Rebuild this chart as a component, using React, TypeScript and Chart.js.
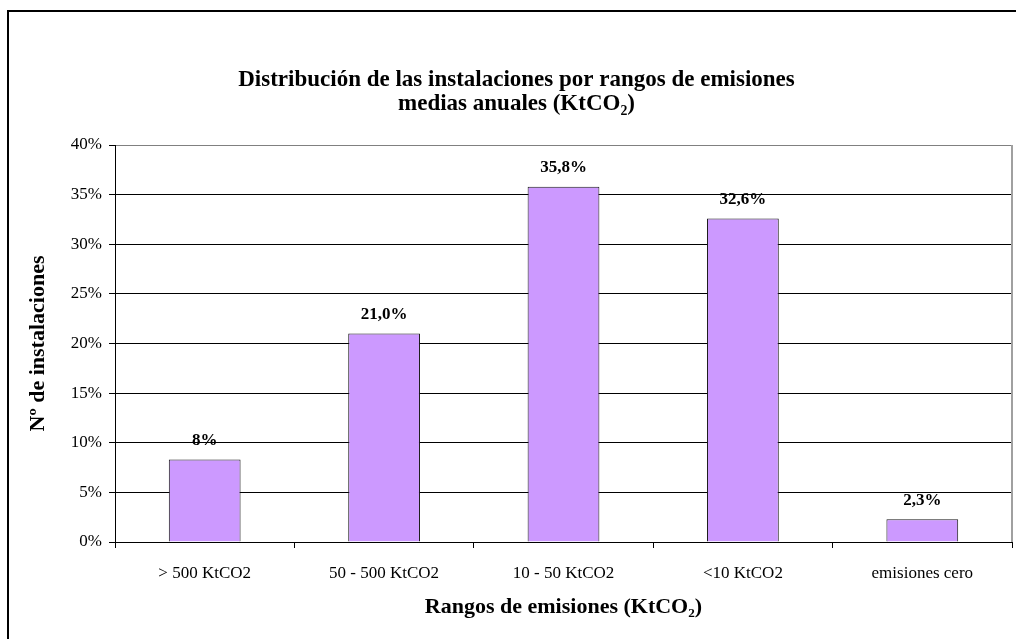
import React, { useEffect, useRef } from "react";
import { Chart, registerables } from "chart.js";

Chart.register(...registerables);

const categories = ["> 500 KtCO2", "50 - 500 KtCO2", "10 - 50 KtCO2", "<10 KtCO2", "emisiones cero"];
const values = [8.3, 21.0, 35.8, 32.6, 2.3];
const valueLabels = ["8%", "21,0%", "35,8%", "32,6%", "2,3%"];
const yTickValues = [0, 5, 10, 15, 20, 25, 30, 35, 40];
const titleLines = ["Distribución de las instalaciones por rangos de emisiones", "medias anuales (KtCO₂)"];
const xAxisTitle = "Rangos de emisiones (KtCO₂)";
const yAxisTitle = "Nº de instalaciones";

const SERIF = "'Liberation Serif', 'Times New Roman', serif";

const framePlugin = {
  id: "frame",
  beforeDraw(chart: any) {
    const ctx = chart.ctx;
    ctx.save();
    ctx.fillStyle = "#ffffff";
    ctx.fillRect(0, 0, chart.width, chart.height);
    ctx.fillStyle = "#000000";
    ctx.fillRect(7, 10, 2, chart.height - 10);
    ctx.fillRect(7, 10, chart.width - 7, 2);
    ctx.restore();
  },
  afterDraw(chart: any) {
    const { ctx, chartArea } = chart;
    ctx.save();
    ctx.strokeStyle = "#a0a0a0";
    ctx.lineWidth = 2;
    ctx.beginPath();
    ctx.moveTo(chartArea.right, chartArea.top);
    ctx.lineTo(chartArea.right, chartArea.bottom);
    ctx.stroke();
    ctx.restore();
  },
};

const barLabelPlugin = {
  id: "barLabels",
  afterDatasetsDraw(chart: any) {
    const ctx = chart.ctx;
    const meta = chart.getDatasetMeta(0);
    ctx.save();
    ctx.font = `bold 17px ${SERIF}`;
    ctx.fillStyle = "#000000";
    ctx.textAlign = "center";
    ctx.textBaseline = "middle";
    meta.data.forEach((bar: any, i: number) => {
      ctx.fillText(valueLabels[i], bar.x, bar.y - 19);
    });
    ctx.restore();
  },
};

export default function App() {
  const ref = useRef<HTMLCanvasElement | null>(null);

  useEffect(() => {
    if (!ref.current) return;
    const chart = new Chart(ref.current, {
      type: "bar",
      data: {
        labels: categories,
        datasets: [
          {
            data: values,
            backgroundColor: "#CC99FF",
            borderColor: "#1a1a1a",
            borderWidth: 1,
            barPercentage: 0.4,
            categoryPercentage: 1,
          },
        ],
      },
      options: {
        responsive: false,
        animation: false,
        devicePixelRatio: 1,
        layout: { padding: { left: 21, right: 4, top: 20, bottom: 14 } },
        plugins: {
          legend: { display: false },
          tooltip: { enabled: false },
          title: {
            display: true,
            text: titleLines,
            color: "#000000",
            font: { family: SERIF, size: 23, weight: "bold", lineHeight: 24 / 23 },
            padding: { top: 48, bottom: 29 },
          },
        },
        scales: {
          x: {
            offset: true,
            grid: {
              display: true,
              drawOnChartArea: false,
              drawTicks: true,
              tickLength: 6,
              tickColor: "#000000",
              offset: true,
            },
            border: { display: true, color: "#000000", width: 1 },
            ticks: {
              color: "#000000",
              font: { family: SERIF, size: 17 },
              padding: 15,
              maxRotation: 0,
              autoSkip: false,
            },
            title: {
              display: true,
              text: xAxisTitle,
              color: "#000000",
              font: { family: SERIF, size: 22, weight: "bold", lineHeight: 1.2 },
              padding: { top: 4, bottom: 4 },
            },
            afterFit(scale: any) {
              scale.height = 83;
            },
          },
          y: {
            min: 0,
            max: 40,
            afterBuildTicks(scale: any) {
              scale.ticks = yTickValues.map((v) => ({ value: v }));
            },
            grid: {
              color: (c: any) => (c.tick && c.tick.value === 40 ? "#808080" : "#000000"),
              lineWidth: 1,
              drawTicks: true,
              tickLength: 6,
              tickColor: "#000000",
            },
            border: { display: true, color: "#000000", width: 1 },
            ticks: {
              color: "#000000",
              font: { family: SERIF, size: 17 },
              padding: 7,
              callback: (v: any) => `${v}%`,
            },
            title: {
              display: true,
              text: yAxisTitle,
              color: "#000000",
              font: { family: SERIF, size: 22, weight: "bold", lineHeight: 1.2 },
              padding: { top: 4, bottom: 4 },
            },
            afterFit(scale: any) {
              scale.width = 94;
            },
          },
        },
      },
      plugins: [framePlugin, barLabelPlugin],
    } as any);
    return () => chart.destroy();
  }, []);

  return (
    <div style={{ position: "absolute", left: 0, top: 0, width: 1016, height: 639, background: "#fff" }}>
      <canvas ref={ref} width={1016} height={639} style={{ display: "block", width: 1016, height: 639 }} />
    </div>
  );
}
